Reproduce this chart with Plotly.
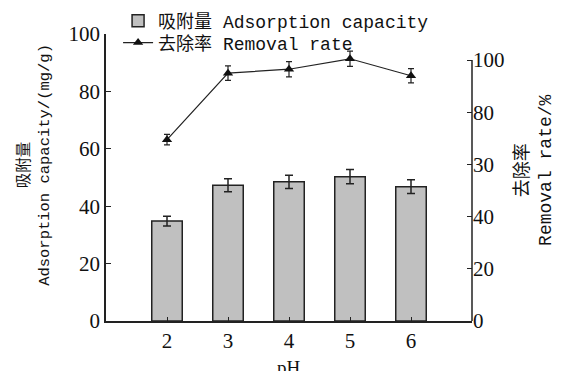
import plotly.graph_objects as go

ph = [2, 3, 4, 5, 6]
adsorption = [34.8, 47.3, 48.5, 50.3, 46.8]
adsorption_err = [1.7, 2.3, 2.3, 2.5, 2.4]
removal = [69.5, 95.0, 96.5, 100.5, 94.0]
removal_err = [2.0, 2.8, 2.9, 2.9, 2.7]
left_ticks = [0, 20, 40, 60, 80, 100]
right_tickvals = [0, 20, 40, 60, 80, 100]
right_ticktext = ["0", "20", "40", "30", "80", "100"]
x_ticks = [2, 3, 4, 5, 6]

MONO = "Liberation Mono, Noto Sans CJK SC, monospace"
SERIF = "Liberation Serif, serif"
AX = "#222222"
TXT = "#111111"

fig = go.Figure()
fig.add_trace(go.Bar(
    x=ph, y=adsorption, width=0.5,
    name="吸附量 Adsorption capacity",
    marker=dict(color="#c0c0c0", line=dict(color="#222222", width=1.5)),
    error_y=dict(type="data", array=adsorption_err, color="#222222", thickness=1.5, width=4),
    yaxis="y", legend="legend",
))
fig.add_trace(go.Scatter(
    x=ph, y=removal, mode="lines+markers",
    name="去除率 Removal rate",
    line=dict(color="#222222", width=1.2),
    marker=dict(symbol="triangle-up", size=9, color="#111111"),
    error_y=dict(type="data", array=removal_err, color="#222222", thickness=1.2, width=3),
    yaxis="y2", cliponaxis=False, legend="legend2",
))

fig.add_shape(type="line", xref="paper", x0=1, x1=1, yref="y2", y0=0, y1=100,
              line=dict(color=AX, width=1.5))

leg_common = dict(xanchor="left", yanchor="middle", bgcolor="rgba(0,0,0,0)",
                  font=dict(family=MONO, size=18, color=TXT), itemwidth=30)

fig.update_layout(
    width=569, height=371,
    margin=dict(l=106, r=97, t=34, b=50, autoexpand=False),
    paper_bgcolor="white", plot_bgcolor="white",
    showlegend=True,
    legend=dict(x=0.033, y=1.045, **leg_common),
    legend2=dict(x=0.033, y=0.969, **leg_common),
    xaxis=dict(range=[1, 7], tickmode="array", tickvals=x_ticks, automargin=False,
               ticks="inside", ticklen=4, tickcolor=AX, tickwidth=1.2,
               showline=True, linecolor=AX, linewidth=1.5, showgrid=False, zeroline=False,
               tickfont=dict(family=SERIF, size=21, color=TXT)),
    yaxis=dict(range=[0, 100], tickmode="array", tickvals=left_ticks, automargin=False,
               ticks="inside", ticklen=5, tickcolor=AX, tickwidth=1.2,
               showline=True, linecolor=AX, linewidth=1.5, showgrid=False, zeroline=False,
               tickfont=dict(family=SERIF, size=21, color=TXT)),
    yaxis2=dict(range=[0, 110], overlaying="y", side="right", tickmode="array",
                tickvals=right_tickvals, ticktext=right_ticktext, automargin=False,
                ticks="inside", ticklen=5, tickcolor=AX, tickwidth=1.2,
                showline=False, showgrid=False, zeroline=False,
                tickfont=dict(family=SERIF, size=21, color=TXT)),
    annotations=[
        dict(text="pH", xref="x", x=4, yref="paper", y=-0.12, xanchor="center", yanchor="top",
             showarrow=False, font=dict(family=SERIF, size=19, color=TXT)),
        dict(text="吸附量<br>Adsorption capacity/(mg/g)", xref="paper", x=-0.194,
             yref="paper", y=0.544, xanchor="center", yanchor="middle", textangle=-90,
             showarrow=False, font=dict(family=MONO, size=15.5, color=TXT)),
        dict(text="去除率<br>Removal rate/%", xref="paper", x=1.169,
             yref="paper", y=0.526, xanchor="center", yanchor="middle", textangle=-90,
             showarrow=False, font=dict(family=MONO, size=18, color=TXT)),
    ],
)

fig.write_html("out.html")
